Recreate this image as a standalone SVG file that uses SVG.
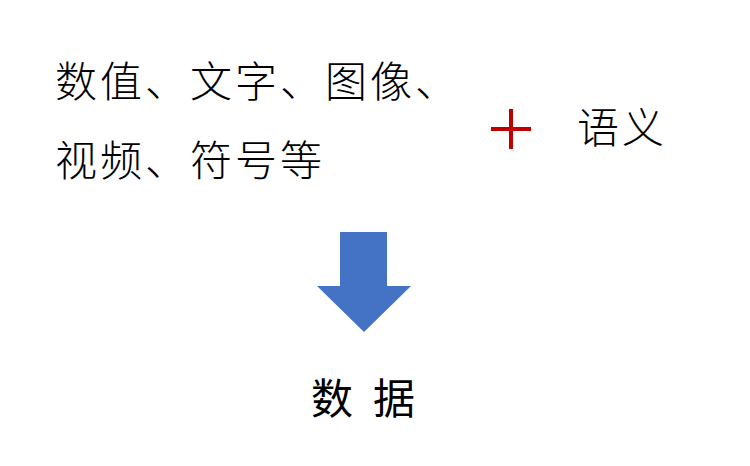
<svg xmlns="http://www.w3.org/2000/svg" width="750" height="466" viewBox="0 0 750 466">
  <style>
    .t { font-family: "Noto Sans CJK SC", "Noto Sans CJK JP", sans-serif; fill: #000; }
    .big { font-size: 42px; font-weight: 300; }
    .lbl { font-size: 42px; }
  </style>
  <rect width="750" height="466" fill="#fff"/>
  <g id="sources">
    <text class="t big" x="55" y="97" letter-spacing="3">数值、文字、图像、</text>
    <text class="t big" x="55" y="176" letter-spacing="3">视频、符号等</text>
  </g>
  <g id="plus">
    <path d="M491 129 H531 M511 109 V149" stroke="#C00000" stroke-width="4" fill="none"/>
  </g>
  <g id="semantics">
    <text class="t big" x="577" y="143" letter-spacing="3">语义</text>
  </g>
  <g id="connectors">
    <polygon points="340,232 387,232 387,286 411,286 364,332 317,286 340,286" fill="#4472C4"/>
  </g>
  <g id="data">
    <text class="t lbl" x="311 355 373" y="414" xml:space="preserve">数 据</text>
  </g>
</svg>
